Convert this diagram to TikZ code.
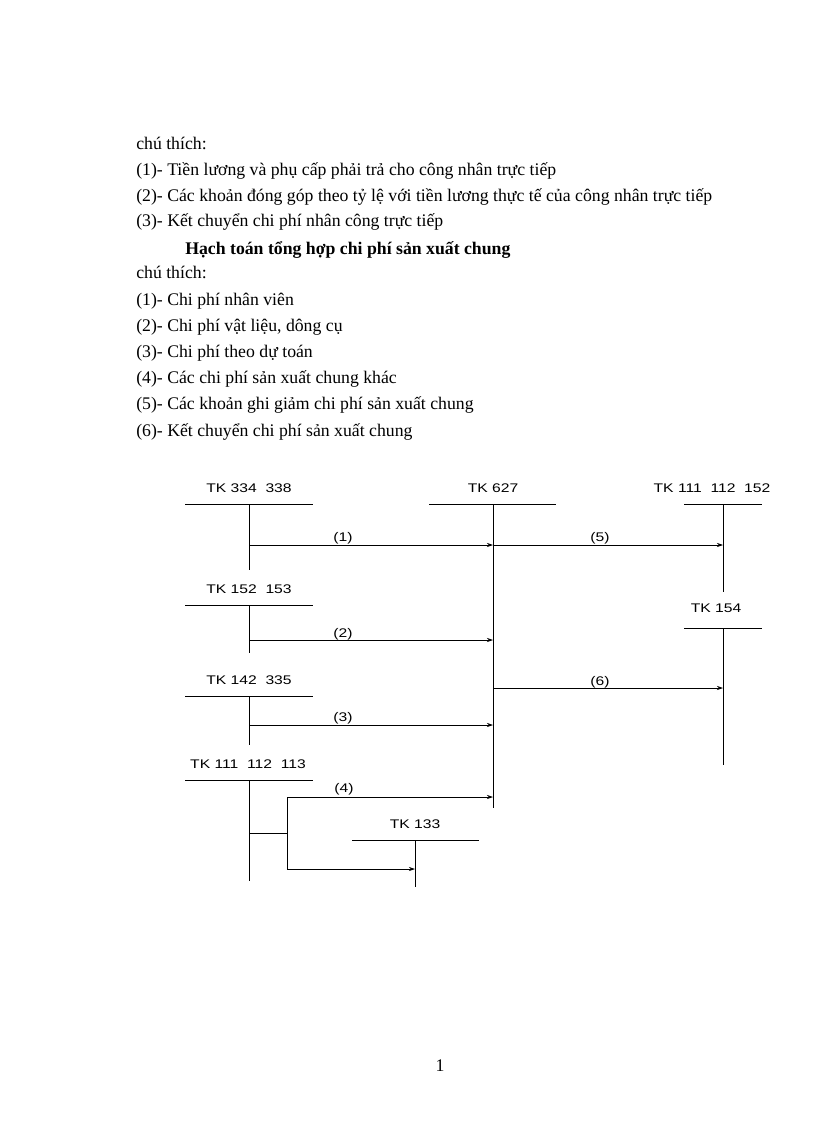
\documentclass[tikz,border=0pt]{standalone}
\usepackage{fontspec}
\setmainfont{Liberation Serif}
\newfontfamily\acctfont{Liberation Sans}
\usetikzlibrary{arrows.meta}
\newcommand{\acctwide}[1]{\scalebox{1.25}[1]{#1}}
\begin{document}
\begin{tikzpicture}[x=0.75pt,y=-0.75pt,
  txt/.style={anchor=base west,inner sep=0pt,font=\fontsize{13.3}{15}\selectfont},
  acct/.style={anchor=base,inner sep=0pt,font=\acctfont\fontsize{9.4}{11}\selectfont},
  num/.style={anchor=base,inner sep=0pt,font=\acctfont\fontsize{9.4}{11}\selectfont},
  tline/.style={line width=0.65pt},
  flow/.style={line width=0.5pt,-{Stealth[length=4.5pt,width=3pt]}},
  plain/.style={line width=0.5pt}]
\useasboundingbox (0,0) rectangle (816,1123);
% text
\node[txt] (t1) at (136,150) {chú thích:};
\node[txt] (t2) at (136,176) {(1)- Tiền lương và phụ cấp phải trả cho công nhân trực tiếp};
\node[txt] (t3) at (136,202) {(2)- Các khoản đóng góp theo tỷ lệ với tiền lương thực tế của công nhân trực tiếp};
\node[txt] (t4) at (136,227) {(3)- Kết chuyển chi phí nhân công trực tiếp};
\node[txt,font=\fontsize{13.3}{15}\selectfont\bfseries] (h) at (185,254) {Hạch toán tổng hợp chi phí sản xuất chung};
\node[txt] (t5) at (136,278) {chú thích:};
\node[txt] (t6) at (136,305) {(1)- Chi phí nhân viên};
\node[txt] (t7) at (136,331) {(2)- Chi phí vật liệu, dông cụ};
\node[txt] (t8) at (136,357) {(3)- Chi phí theo dự toán};
\node[txt] (t9) at (136,383) {(4)- Các chi phí sản xuất chung khác};
\node[txt] (t10) at (136,409) {(5)- Các khoản ghi giảm chi phí sản xuất chung};
\node[txt] (t11) at (136,436) {(6)- Kết chuyển chi phí sản xuất chung};
\node[txt,anchor=base] (pg) at (440,1071) {1};
% account labels
\node[acct] (a334) at (249,492) {\acctwide{TK 334\ \ 338}};
\node[acct] (a627) at (493,492) {\acctwide{TK 627}};
\node[acct] (a111b) at (712,492) {\acctwide{TK 111\ \ 112\ \ 152}};
\node[acct] (a152) at (249,593) {\acctwide{TK 152\ \ 153}};
\node[acct] (a154) at (716,612) {\acctwide{TK 154}};
\node[acct] (a142) at (249,684) {\acctwide{TK 142\ \ 335}};
\node[acct] (a111) at (248,768) {\acctwide{TK 111\ \ 112\ \ 113}};
\node[acct] (a133) at (415,828) {\acctwide{TK 133}};
% T-account lines
\draw[tline] (185,504) -- (313,504);
\draw[tline] (249,504) coordinate (v334) -- (249,570);
\draw[tline] (429,504) -- (556,504);
\draw[tline] (493,504) coordinate (v627) -- (493,808);
\draw[tline] (684,504) -- (762,504);
\draw[tline] (723,504) coordinate (v111b) -- (723,592);
\draw[tline] (185,605) -- (313,605);
\draw[tline] (249,605) -- (249,653);
\draw[tline] (684,628) -- (762,628);
\draw[tline] (723,628) -- (723,765);
\draw[tline] (185,696) -- (313,696);
\draw[tline] (249,696) -- (249,745);
\draw[tline] (185,780) -- (313,780);
\draw[tline] (249,780) -- (249,881);
\draw[tline] (352,840) -- (479,840);
\draw[tline] (415,840) -- (415,887);
% flows
\coordinate (s1) at (249,545); \coordinate (e1) at (493,545);
\coordinate (e5) at (723,545);
\draw[flow] (s1) -- (e1); \node[num] (n1) at (343,541) {\acctwide{(1)}};
\draw[flow] (e1) -- (e5); \node[num] (n5) at (600,541) {\acctwide{(5)}};
\coordinate (s2) at (249,640); \coordinate (e2) at (493,640);
\draw[flow] (s2) -- (e2); \node[num] (n2) at (343,637) {\acctwide{(2)}};
\coordinate (s6) at (493,688); \coordinate (e6) at (723,688);
\draw[flow] (s6) -- (e6); \node[num] (n6) at (600,685) {\acctwide{(6)}};
\coordinate (s3) at (249,725); \coordinate (e3) at (493,725);
\draw[flow] (s3) -- (e3); \node[num] (n3) at (343,721) {\acctwide{(3)}};
\coordinate (b0) at (249,833); \coordinate (b1) at (287,833);
\coordinate (b4) at (287,797); \coordinate (e4) at (493,797);
\coordinate (b7) at (287,869); \coordinate (e7) at (415,869);
\draw[plain] (b0) -- (b1);
\draw[plain] (b4) -- (b7);
\draw[flow] (b4) -- (e4); \node[num] (n4) at (344,792) {\acctwide{(4)}};
\draw[flow] (b7) -- (e7);
\end{tikzpicture}
\end{document}
